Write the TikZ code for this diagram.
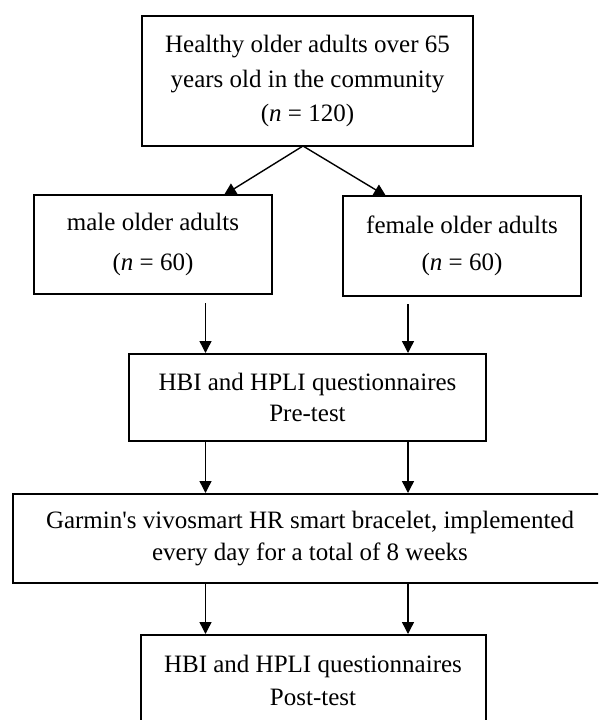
\documentclass[tikz,border=0pt]{standalone}
\usepackage{fontspec}
\setmainfont{Liberation Serif}[Ligatures=TeXOff]
\usetikzlibrary{arrows.meta}
\begin{document}
\begin{tikzpicture}[x=1pt,y=-1pt,
  box/.style={draw, line width=2pt, inner sep=0pt, align=center},
  arr/.style={line width=1.4pt, -{Triangle[length=12pt,width=12pt]}}]
\useasboundingbox (0,0) rectangle (598,720);
\fill[white] (0,0) rectangle (598,720);
\clip (0,0) rectangle (598,720);
\node[box, minimum width=331pt, minimum height=130pt, font=\fontsize{25}{34.5}\selectfont] (top) at (307.5,81)
  {Healthy older adults over 65\\years old in the community\\(\textit{n} = 120)};
\node[box, minimum width=238pt, minimum height=99pt, font=\fontsize{25}{40}\selectfont] (male) at (153,244.5)
  {male older adults\\(\textit{n} = 60)};
\node[box, minimum width=238pt, minimum height=100pt, font=\fontsize{25}{37}\selectfont] (female) at (462,246)
  {female older adults\\(\textit{n} = 60)};
\node[box, minimum width=357pt, minimum height=87pt, font=\fontsize{25}{31}\selectfont] (pre) at (307.5,397.5)
  {HBI and HPLI questionnaires\\Pre-test};
\node[box, minimum width=595pt, minimum height=89pt, font=\fontsize{25}{32}\selectfont] (garmin) at (310,538.5)
  {Garmin's vivosmart HR smart bracelet, implemented\\every day for a total of 8 weeks};
\node[box, minimum width=345pt, minimum height=90pt, font=\fontsize{25}{33}\selectfont] (post) at (313,680)
  {HBI and HPLI questionnaires\\Post-test};
\coordinate (apex) at (303,146);
\coordinate (mIn) at (224,195);
\coordinate (fIn) at (386,196);
\coordinate (colL) at (205.5,303);
\coordinate (colR) at (408,304);
\draw[arr] (apex) -- (mIn);
\draw[arr] (apex) -- (fIn);
\draw[arr] (colL) -- (pre.north -| colL);
\draw[arr] (colR) -- (pre.north -| colR);
\draw[arr] (pre.south -| colL) -- (garmin.north -| colL);
\draw[arr] (pre.south -| colR) -- (garmin.north -| colR);
\draw[arr] (garmin.south -| colL) -- (post.north -| colL);
\draw[arr] (garmin.south -| colR) -- (post.north -| colR);
\end{tikzpicture}
\end{document}
